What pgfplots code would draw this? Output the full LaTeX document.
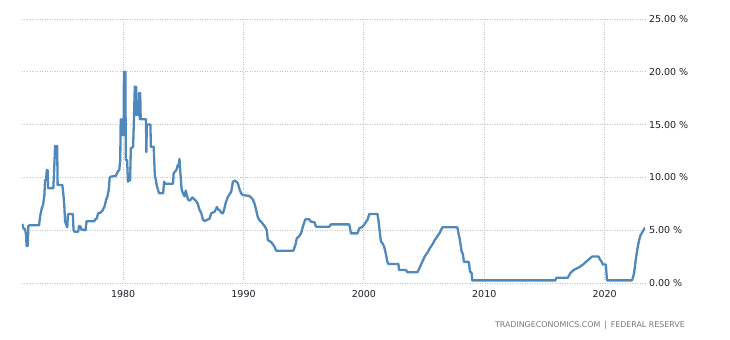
\documentclass[border=0pt]{standalone}
\usepackage{pgfplots}
\pgfplotsset{compat=1.18}
\usepackage{fontspec}
\setmainfont{DejaVu Sans}
\definecolor{lineblue}{RGB}{79,137,188}
\definecolor{gridgray}{RGB}{196,196,196}
\definecolor{labelgray}{RGB}{120,120,120}
\definecolor{ticktext}{RGB}{30,30,40}
\begin{document}
\begin{tikzpicture}
\begin{axis}[
  scale only axis,
  width=623pt, height=264pt,
  xmin=1971.6, xmax=2023.35,
  ymin=0, ymax=25,
  axis line style={draw=none},
  major tick length=0pt,
  xtick={1980,1990,2000,2010,2020},
  ytick={0,5,10,15,20,25},
  grid=major,
  grid style={color=gridgray, line width=0.9pt, dash pattern=on 1pt off 1.5pt},
  yticklabel pos=right,
  /pgf/number format/assume math mode=true,
  x tick label style={/pgf/number format/1000 sep={}, font=\fontsize{9.5}{11}\selectfont, text=ticktext, yshift=-3.5pt},
  y tick label style={font=\fontsize{9.5}{11}\selectfont, text=ticktext, anchor=west, xshift=0.5pt},
  yticklabel={\pgfmathprintnumber[fixed,fixed zerofill,precision=2]{\tick}~\%},
]
\addplot[color=lineblue, line width=2.3pt, line join=round] coordinates {
(1971.63,5.59) (1971.72,5.18) (1971.86,5.08) (1971.94,4.54) (1971.98,3.50) (1972.08,3.50)
(1972.13,5.40) (1972.20,5.46) (1973.02,5.46) (1973.10,6.28) (1973.24,7.07) (1973.35,7.40)
(1973.46,8.33) (1973.52,9.75) (1973.60,9.75) (1973.66,10.70) (1973.73,10.70) (1973.77,8.97)
(1974.20,8.97) (1974.26,10.38) (1974.35,12.97) (1974.52,12.97) (1974.56,9.28) (1974.95,9.28)
(1975.03,8.49) (1975.11,7.39) (1975.18,5.81) (1975.28,5.50) (1975.36,5.27) (1975.42,6.53)
(1975.82,6.53) (1975.88,5.05) (1975.95,4.86) (1976.27,4.86) (1976.34,5.40) (1976.45,5.35)
(1976.52,5.08) (1976.88,5.00) (1976.96,5.84) (1977.60,5.84) (1977.68,6.03) (1977.80,6.10)
(1977.93,6.60) (1978.10,6.65) (1978.28,6.85) (1978.45,7.23) (1978.60,7.92) (1978.70,8.20)
(1978.80,8.80) (1978.88,9.90) (1978.95,10.07) (1979.40,10.15) (1979.55,10.54) (1979.68,10.70)
(1979.76,11.65) (1979.80,15.50) (1979.86,14.00) (1979.92,15.50) (1979.97,14.00) (1980.04,14.00)
(1980.07,20.00) (1980.19,20.00) (1980.22,11.65) (1980.33,11.65) (1980.40,9.60) (1980.58,9.75)
(1980.64,12.75) (1980.83,12.90) (1980.90,15.60) (1980.97,18.60) (1981.03,15.90) (1981.08,18.60)
(1981.12,15.90) (1981.30,15.90) (1981.33,18.00) (1981.38,15.50) (1981.42,18.00) (1981.46,15.50)
(1981.90,15.50) (1981.93,12.40) (1981.97,15.00) (1982.27,15.00) (1982.30,12.90) (1982.54,12.90)
(1982.63,10.20) (1982.72,9.75) (1982.80,9.20) (1982.90,8.80) (1982.98,8.50) (1983.33,8.50)
(1983.40,9.60) (1983.50,9.40) (1984.14,9.40) (1984.20,10.40) (1984.42,10.70) (1984.55,11.20)
(1984.62,11.00) (1984.68,11.75) (1984.75,10.50) (1984.85,9.00) (1984.92,8.65) (1985.00,8.40)
(1985.11,8.20) (1985.20,8.75) (1985.30,8.30) (1985.39,7.90) (1985.55,7.80) (1985.75,8.10)
(1985.85,8.00) (1986.08,7.75) (1986.20,7.50) (1986.35,6.91) (1986.50,6.60) (1986.63,6.00)
(1986.80,5.85) (1986.95,5.97) (1987.18,6.10) (1987.32,6.60) (1987.60,6.75) (1987.79,7.20)
(1987.90,6.95) (1988.01,6.90) (1988.20,6.60) (1988.29,6.60) (1988.40,7.00) (1988.51,7.54)
(1988.70,8.17) (1988.85,8.40) (1988.98,8.65) (1989.12,9.60) (1989.30,9.70) (1989.45,9.55)
(1989.53,9.44) (1989.67,8.87) (1989.80,8.50) (1989.94,8.33) (1990.50,8.24) (1990.77,7.92)
(1990.91,7.54) (1991.05,6.91) (1991.19,6.22) (1991.35,5.90) (1991.46,5.81) (1991.74,5.40)
(1991.93,5.02) (1992.02,4.07) (1992.20,3.95) (1992.35,3.80) (1992.57,3.44) (1992.71,3.06)
(1994.14,3.06) (1994.25,3.40) (1994.35,3.75) (1994.42,4.23) (1994.60,4.40) (1994.78,4.70)
(1994.97,5.49) (1995.14,6.03) (1995.45,6.03) (1995.60,5.81) (1995.90,5.75) (1996.02,5.33)
(1997.12,5.33) (1997.26,5.55) (1998.78,5.55) (1998.85,5.20) (1998.92,4.70) (1999.47,4.70)
(1999.61,5.18) (1999.85,5.30) (2000.02,5.50) (2000.15,5.75) (2000.30,6.00) (2000.45,6.53)
(2001.13,6.53) (2001.20,6.00) (2001.27,5.33) (2001.35,4.50) (2001.42,3.91) (2001.55,3.75)
(2001.68,3.44) (2001.78,3.00) (2001.87,2.50) (2001.95,2.00) (2002.04,1.80) (2002.87,1.80)
(2002.92,1.23) (2003.48,1.23) (2003.62,1.01) (2004.44,1.01) (2004.55,1.25) (2004.65,1.50)
(2004.75,1.75) (2004.85,2.00) (2004.95,2.25) (2005.05,2.50) (2005.20,2.75) (2005.35,3.00)
(2005.45,3.25) (2005.60,3.50) (2005.75,3.75) (2005.85,4.00) (2006.00,4.25) (2006.15,4.50)
(2006.30,4.75) (2006.40,5.00) (2006.51,5.27) (2007.76,5.27) (2007.90,4.45) (2007.95,4.25)
(2008.05,3.50) (2008.12,2.97) (2008.22,2.75) (2008.31,2.00) (2008.72,2.00) (2008.81,1.07)
(2008.94,1.00) (2009.00,0.25) (2015.90,0.25) (2016.00,0.50) (2016.95,0.50) (2017.05,0.75)
(2017.20,1.00) (2017.45,1.25) (2017.90,1.50) (2018.20,1.75) (2018.45,2.00) (2018.70,2.25)
(2018.95,2.50) (2019.50,2.50) (2019.60,2.25) (2019.75,2.00) (2019.85,1.75) (2020.10,1.75)
(2020.19,0.25) (2022.26,0.25) (2022.35,0.50) (2022.45,1.00) (2022.53,1.75) (2022.62,2.50)
(2022.72,3.25) (2022.85,4.00) (2022.97,4.50) (2023.10,4.75) (2023.22,5.00) (2023.35,5.25)
};
\end{axis}
\node[anchor=east, text=labelgray, font=\fontsize{7.9}{9}\selectfont, inner sep=0pt]
  at ([shift={(40pt,-42pt)}]current axis.south east) {TRADINGECONOMICS.COM \,|\, FEDERAL RESERVE};
\pgfresetboundingbox
\path ([shift={(-22pt,-57pt)}]current axis.south west) rectangle ([shift={(85pt,19pt)}]current axis.north east);
\end{tikzpicture}
\end{document}
